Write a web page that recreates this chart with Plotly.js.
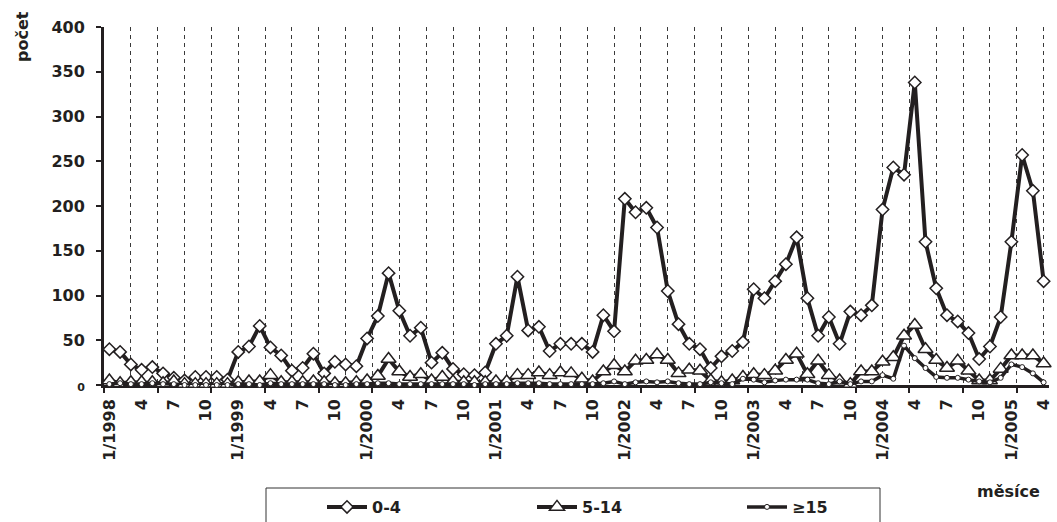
<!DOCTYPE html>
<html>
<head>
<meta charset="utf-8">
<script src="https://cdn.plot.ly/plotly-3.0.1.min.js"></script>
<style>html,body{margin:0;padding:0;background:#fff;}</style>
</head>
<body>
<div id="chart" style="width:1057px;height:522px;"></div>
<script>
// ---- data ----
const firstYear = 1998;
const monthCount = 88; // 1/1998 .. 4/2005
const months = [];
for (let i = 0; i < monthCount; i++) {
  months.push(((i % 12) + 1) + '/' + (firstYear + Math.floor(i / 12)));
}

const tickLabels = ["1/1998","4","7","10","1/1999","4","7","10","1/2000","4","7","10",
  "1/2001","4","7","10","1/2002","4","7","10","1/2003","4","7","10",
  "1/2004","4","7","10","1/2005","4"];

const series04 = [
  40,37,23,17,20,13,8,5,9,9,9,6,
  37,43,66,42,33,16,19,35,13,26,23,21,
  52,77,125,83,55,64,25,36,18,12,11,14,
  46,55,121,61,65,38,46,46,46,37,78,60,
  208,193,198,176,105,68,46,40,19,32,38,48,
  107,97,116,135,165,97,55,76,46,82,78,89,
  196,243,235,338,160,108,78,71,58,29,43,76,
  160,257,217,116
];

const series514 = [
  5,2,3,3,3,2,4,1,1,1,1,1,
  3,4,4,11,3,3,3,4,3,2,2,3,
  5,10,29,15,9,12,5,9,4,3,3,3,
  4,4,11,11,14,11,14,13,7,4,15,22,
  15,27,28,34,28,13,17,16,5,3,5,9,
  12,11,16,28,35,12,27,11,5,1,15,15,
  26,31,55,67,40,28,19,27,16,5,5,18,
  33,33,33,24
];

const series15 = [
  1,2,1,1,2,1,1,0,0,0,0,0,
  1,1,0,2,1,1,1,1,1,0,0,1,
  1,2,2,1,1,1,1,1,1,1,0,1,
  1,1,2,2,2,1,1,1,1,1,2,4,
  1,3,4,3,4,2,1,1,3,2,1,7,
  6,3,5,6,6,6,2,1,4,1,4,4,
  11,7,44,30,19,9,8,8,6,4,3,8,
  23,20,13,3
];

const yTickVals = [0,50,100,150,200,250,300,350,400];
const yTickText = ['<span style="font-size:11px">0</span>','50','100','150','200','250','300','350','400'];

const seriesNames = ['0-4','5-14','\u226515'];

// ---- chart ----
const x = months.map((m, i) => i);
const tickVals = tickLabels.map((t, k) => k * 3);

const INK = '#231f20';
const FONT = 'DejaVu Sans, Arial, sans-serif';

const traces = [
  {x: x, y: series04, name: seriesNames[0], type: 'scatter', mode: 'lines+markers',
   xaxis: 'x', yaxis: 'y',
   line: {color: INK, width: 4}, cliponaxis: false, hoverinfo: 'skip',
   marker: {symbol: 'diamond', size: 9.5, color: '#ffffff', line: {color: INK, width: 1.5}}},
  {x: x, y: series514, name: seriesNames[1], type: 'scatter', mode: 'lines+markers',
   xaxis: 'x', yaxis: 'y',
   line: {color: INK, width: 4}, cliponaxis: false, hoverinfo: 'skip',
   marker: {symbol: 'triangle-up', size: 13, color: '#ffffff', line: {color: INK, width: 1.5}}},
  {x: x, y: series15, name: seriesNames[2], type: 'scatter', mode: 'lines+markers',
   xaxis: 'x2', yaxis: 'y',
   line: {color: INK, width: 3.5}, cliponaxis: false, hoverinfo: 'skip',
   marker: {symbol: 'circle', size: 5, color: '#ffffff', line: {color: INK, width: 1}}}
];

const L = 104, R = 1049, T = 27, B = 385, W = 1057, H = 522;
const px2x = p => (p - L) / (R - L);
const px2y = p => (B - p) / (B - T);

const layout = {
  width: W, height: H,
  margin: {l: L, r: W - R, t: T, b: H - B, pad: 0},
  paper_bgcolor: '#ffffff', plot_bgcolor: '#ffffff',
  font: {family: FONT, color: INK, size: 16, weight: 'bold'},
  showlegend: true,
  xaxis: {
    range: [-0.5, 87.5], tickmode: 'linear', tick0: -0.5, dtick: 5,
    ticks: 'outside', ticklen: 5, tickwidth: 2, tickcolor: INK,
    showticklabels: false,
    showgrid: true, gridcolor: '#3a3a3a', gridwidth: 1, griddash: '4px,4px',
    minor: {tickmode: 'linear', tick0: -0.5, dtick: 2.5, showgrid: true,
            gridcolor: '#3a3a3a', gridwidth: 1, griddash: '4px,4px', ticks: ''},
    showline: true, linecolor: INK, linewidth: 3, zeroline: false,
    layer: 'below traces', fixedrange: true
  },
  xaxis2: {
    overlaying: 'x', anchor: 'y', side: 'bottom', range: [-0.5, 87.5],
    tickmode: 'array', tickvals: tickVals, ticktext: tickLabels, tickangle: -90,
    ticks: '', showgrid: false, zeroline: false, showline: false,
    tickfont: {family: FONT, size: 16, color: INK, weight: 'bold'},
    ticklabelstandoff: 10, fixedrange: true, layer: 'below traces'
  },
  yaxis: {
    range: [0, 400], tickmode: 'array', tickvals: yTickVals, ticktext: yTickText,
    ticks: 'outside', ticklen: 5, tickwidth: 2, tickcolor: INK,
    showline: true, linecolor: INK, linewidth: 3, showgrid: false, zeroline: false,
    tickfont: {family: FONT, size: 16, color: INK, weight: 'bold'},
    ticklabelstandoff: 8, fixedrange: true, layer: 'below traces'
  },
  legend: {
    orientation: 'h', xref: 'container', yref: 'container',
    x: 322 / W, y: (H - 507) / H, xanchor: 'left', yanchor: 'middle',
    font: {family: FONT, size: 16, color: INK, weight: 'bold'},
    bgcolor: 'rgba(0,0,0,0)', borderwidth: 0,
    entrywidth: 155, entrywidthmode: 'pixels', itemwidth: 40, tracegroupgap: 0
  },
  annotations: [
    {text: 'počet', xref: 'paper', yref: 'paper', x: px2x(22), y: px2y(37),
     xanchor: 'center', yanchor: 'middle', textangle: -90, showarrow: false,
     font: {family: FONT, size: 16, color: INK, weight: 'bold'}},
    {text: 'měsíce', xref: 'paper', yref: 'paper', x: px2x(1008), y: px2y(491),
     xanchor: 'center', yanchor: 'middle', showarrow: false,
     font: {family: FONT, size: 16, color: INK, weight: 'bold'}}
  ],
  shapes: [
    {type: 'rect', xref: 'paper', yref: 'paper',
     x0: px2x(266), x1: px2x(880), y0: px2y(488), y1: px2y(540),
     line: {color: '#333333', width: 1}, fillcolor: 'rgba(0,0,0,0)'}
  ]
};

Plotly.newPlot('chart', traces, layout, {displayModeBar: false, staticPlot: true});
</script>
</body>
</html>
